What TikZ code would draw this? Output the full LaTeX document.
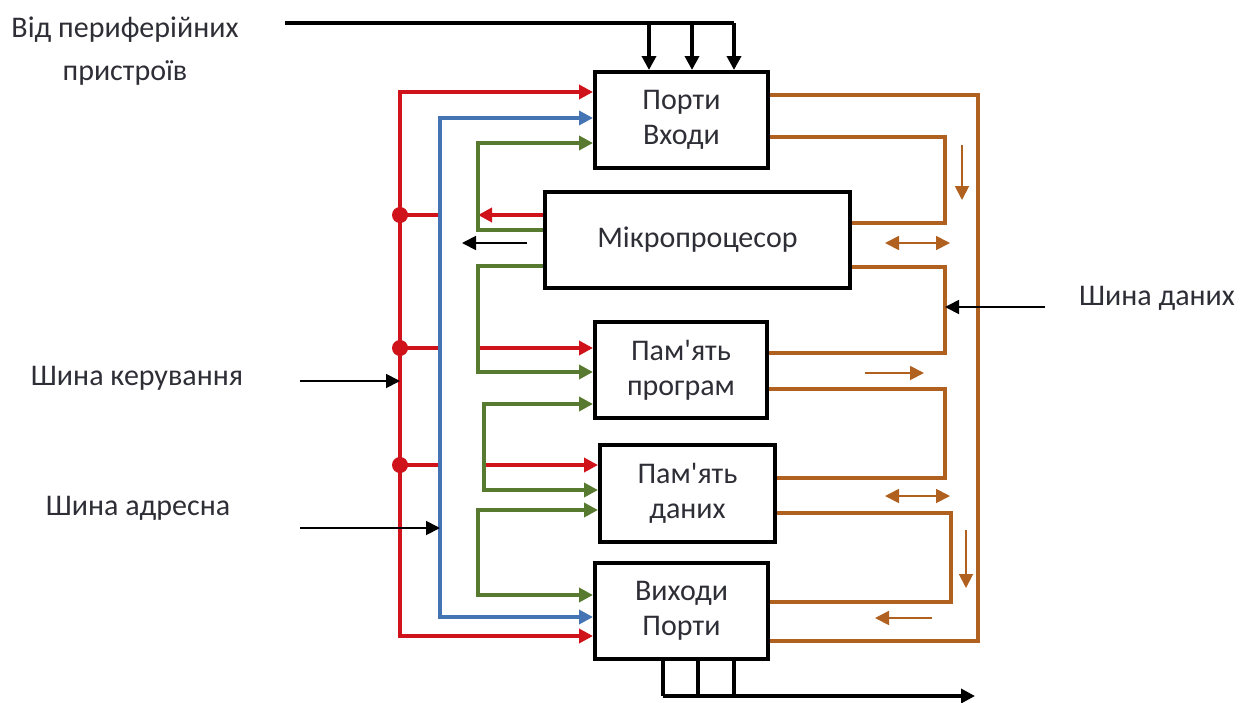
\documentclass[tikz,border=0pt]{standalone}
\usepackage{fontspec}
\usetikzlibrary{arrows.meta,calc,positioning}
\newfontfamily\BusFont{Carlito}
\definecolor{BusRed}{HTML}{D0121B}
\definecolor{BusBlue}{HTML}{4474B4}
\definecolor{BusGreen}{HTML}{587A30}
\definecolor{BusOrange}{HTML}{B0601F}
\definecolor{BusText}{HTML}{2E2E36}
\tikzset{
  unit/.style={draw=black,line width=2pt,fill=white,inner sep=0pt,
    align=center,text=BusText,font=\BusFont\fontsize{15}{17.5}\selectfont},
  busname/.style={text=BusText,align=center,inner sep=0pt,
    font=\BusFont\fontsize{15}{21.5}\selectfont},
  wire/.style={line width=1.9pt},
  tip/.style={-{Triangle[length=7pt,width=7pt]}},
  bothtips/.style={{Triangle[length=7pt,width=7pt]}-{Triangle[length=7pt,width=7pt]}},
  thin/.style={line width=0.9pt,-{Triangle[length=7pt,width=7pt]}},
  hint/.style={BusOrange,line width=0.9pt,-{Triangle[length=7pt,width=7pt]}},
  hint2/.style={BusOrange,line width=0.9pt,
    {Triangle[length=7pt,width=7pt]}-{Triangle[length=7pt,width=7pt]}},
  joint/.style={circle,fill=BusRed,inner sep=0pt,minimum size=8pt}
}
\begin{document}
\begin{tikzpicture}[x=0.5pt,y=-0.5pt]
  \useasboundingbox (0,0) rectangle (1240,702);
  % units
  \node[unit,minimum width=86.5pt,minimum height=48pt] (in) at (681.5,120) {Порти\\Входи};
  \node[unit,minimum width=152.5pt,minimum height=48pt] (cpu) at (697.5,240) {Мікропроцесор};
  \node[unit,minimum width=86pt,minimum height=48pt] (prog) at (681,370) {Пам'ять\\програм};
  \node[unit,minimum width=87.5pt,minimum height=48.5pt] (data) at (687.5,493.5) {Пам'ять\\даних};
  \node[unit,minimum width=86.5pt,minimum height=48pt] (out) at (681.5,611) {Виходи\\Порти};
  % bus names
  \node[busname] (periph) at (125,51) {Від периферійних\\пристроїв};
  \node[busname] (ctrlname) at (137,378) {Шина керування};
  \node[busname] (addrname) at (138,508) {Шина адресна};
  \node[busname] (dataname) at (1157,298) {Шина даних};
  % from peripherals
  \coordinate (pin) at (285,23);
  \coordinate (pend) at (734,23);
  \draw[wire] (pin) -- (pend);
  \foreach \x [count=\i] in {649,692,734} {
    \coordinate (t\i) at (\x,23);
    \draw[wire,tip] (t\i) -- (t\i |- in.north);
  }
  % to outputs
  \coordinate (pout) at (975,696);
  \foreach \x [count=\i] in {663,698,734} {
    \coordinate (b\i) at (\x,696);
    \draw[wire] (b\i |- out.south) -- (b\i);
  }
  \draw[wire,tip] (b1) -- (pout);
  % control bus
  \coordinate (rtop) at (400,92);
  \coordinate (rbot) at (400,636);
  \draw[wire,BusRed,bothtips] (in.west |- rtop) -- (rtop) -- (rbot) -- (out.west |- rbot);
  \foreach \y [count=\i] in {215,348,465} {
    \coordinate (r\i) at (400,\y);
    \draw[wire,BusRed] (r\i) -- ++(40,0);
    \node[joint] (j\i) at (r\i) {};
  }
  \coordinate (rc) at (478,215);
  \coordinate (rp) at (478,348);
  \coordinate (rd) at (484,465);
  \draw[wire,BusRed,tip] (cpu.west |- rc) -- (rc);
  \draw[wire,BusRed,tip] (rp) -- (prog.west |- rp);
  \draw[wire,BusRed,tip] (rd) -- (data.west |- rd);
  % address bus
  \coordinate (btop) at (440,118);
  \coordinate (bbot) at (440,617);
  \draw[wire,BusBlue,bothtips] (in.west |- btop) -- (btop) -- (bbot) -- (out.west |- bbot);
  % local links
  \coordinate (g1a) at (478,143);
  \coordinate (g1b) at (478,230);
  \draw[wire,BusGreen,tip] (cpu.west |- g1b) -- (g1b) -- (g1a) -- (in.west |- g1a);
  \coordinate (g2a) at (478,266);
  \coordinate (g2b) at (478,372);
  \draw[wire,BusGreen,tip] (cpu.west |- g2a) -- (g2a) -- (g2b) -- (prog.west |- g2b);
  \coordinate (g3a) at (484,404);
  \coordinate (g3b) at (484,490);
  \draw[wire,BusGreen,bothtips] (prog.west |- g3a) -- (g3a) -- (g3b) -- (data.west |- g3b);
  \coordinate (g4a) at (478,510);
  \coordinate (g4b) at (478,595);
  \draw[wire,BusGreen,bothtips] (data.west |- g4a) -- (g4a) -- (g4b) -- (out.west |- g4b);
  \coordinate (cs) at (527,243);
  \coordinate (ce) at (462,243);
  \draw[thin] (cs) -- (ce);
  % data bus
  \coordinate (oa) at (978,95);
  \coordinate (ob) at (978,641);
  \draw[wire,BusOrange] (in.east |- oa) -- (oa) -- (ob) -- (out.east |- ob);
  \coordinate (o1a) at (945,137);
  \coordinate (o1b) at (945,223);
  \draw[wire,BusOrange] (in.east |- o1a) -- (o1a) -- (o1b) -- (cpu.east |- o1b);
  \coordinate (o2a) at (945,267);
  \coordinate (o2b) at (945,353);
  \draw[wire,BusOrange] (cpu.east |- o2a) -- (o2a) -- (o2b) -- (prog.east |- o2b);
  \coordinate (o3a) at (945,389);
  \coordinate (o3b) at (945,478);
  \draw[wire,BusOrange] (prog.east |- o3a) -- (o3a) -- (o3b) -- (data.east |- o3b);
  \coordinate (o4a) at (951,513);
  \coordinate (o4b) at (951,602);
  \draw[wire,BusOrange] (data.east |- o4a) -- (o4a) -- (o4b) -- (out.east |- o4b);
  % direction hints
  \draw[hint] (962,145) -- (962,200);
  \draw[hint2] (885,243) -- (950,243);
  \draw[hint] (865,373) -- (924,373);
  \draw[hint2] (885,496) -- (950,496);
  \draw[hint] (966,530) -- (966,588);
  \draw[hint] (932,618) -- (875,618);
  % bus inputs
  \coordinate (ds) at (1045,307);
  \draw[thin] (ds) -- (o2a |- ds);
  \coordinate (ks) at (300,381);
  \draw[thin] (ks) -- (rtop |- ks);
  \coordinate (as) at (300,528);
  \draw[thin] (as) -- (btop |- as);
\end{tikzpicture}
\end{document}
